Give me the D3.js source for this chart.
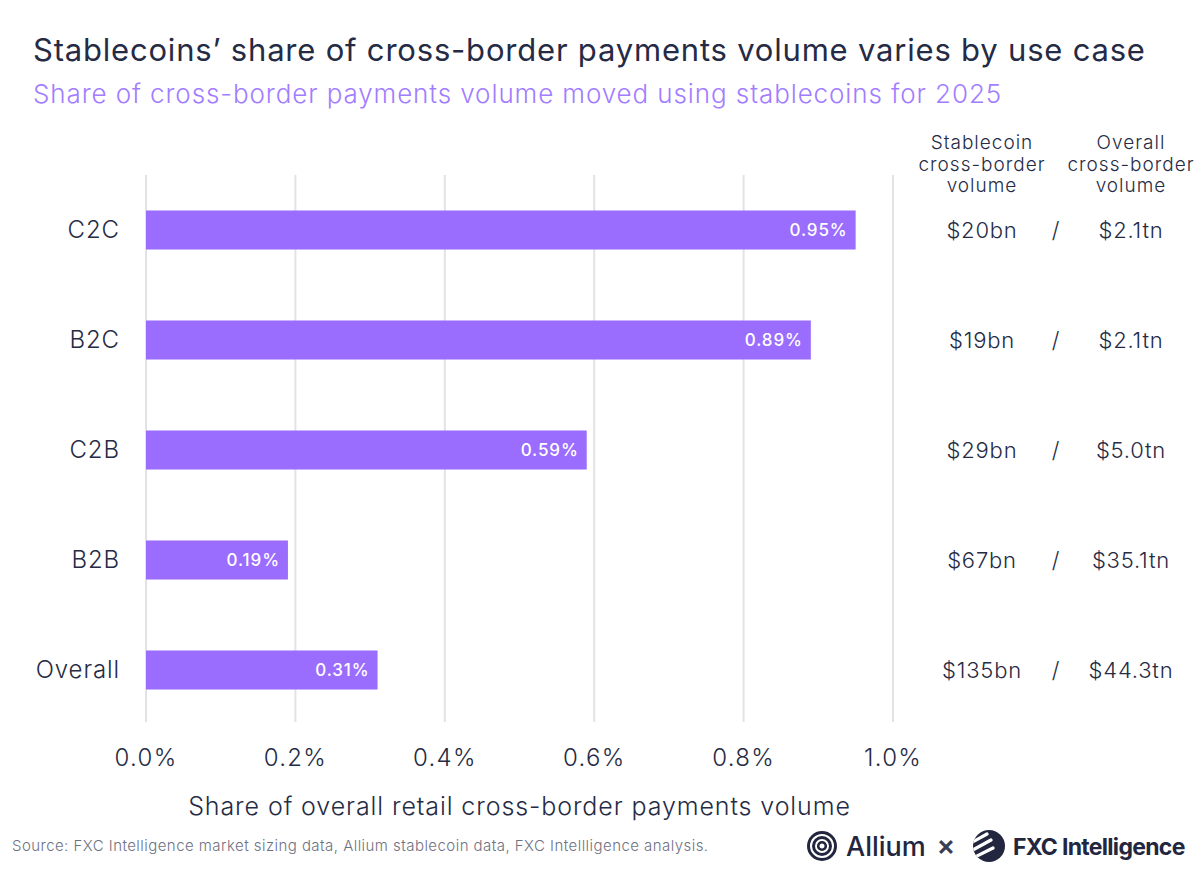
<!DOCTYPE html>
<html>
<head>
<meta charset="utf-8">
<script src="https://cdn.jsdelivr.net/npm/d3@7"></script>
<style>
  body { margin: 0; background: #fff; }
  svg { font-family: Inter, "Noto Sans", sans-serif; }
</style>
</head>
<body>
<div id="chart"></div>
<script>
// data
const categories = ["C2C", "B2C", "C2B", "B2B", "Overall"];
const shareValues = [0.95, 0.89, 0.59, 0.19, 0.31];
const stablecoinVolume = ["$20bn", "$19bn", "$29bn", "$67bn", "$135bn"];
const overallVolume = ["$2.1tn", "$2.1tn", "$5.0tn", "$35.1tn", "$44.3tn"];
const xTicks = [0, 0.2, 0.4, 0.6, 0.8, 1.0];

const W = 1200, H = 875,
  textColor = "#262b45",
  barColor = "#9b6dff",
  gridColor = "#e3e3e6";

const svg = d3.select("#chart").append("svg")
  .attr("width", W).attr("height", H);

// titles
svg.append("text")
  .attr("x", 33).attr("y", 61)
  .style("font-size", "31px").style("fill", textColor)
  .style("letter-spacing", "0.8px")
  .text("Stablecoins\u2019 share of cross-border payments volume varies by use case");
svg.append("text")
  .attr("x", 33).attr("y", 103)
  .style("font-size", "26px").style("fill", "#a27dff")
  .style("font-weight", 300).style("letter-spacing", "0.9px")
  .text("Share of cross-border payments volume moved using stablecoins for 2025");

const x = d3.scaleLinear().domain([0, 1]).range([146, 893]);
const y = d3.scaleBand().domain(categories).range([175, 725])
  .paddingInner(0.645).paddingOuter(0.3225);

// grid
svg.append("g").selectAll("line").data(xTicks).join("line")
  .attr("x1", d => x(d)).attr("x2", d => x(d))
  .attr("y1", 175).attr("y2", 722)
  .attr("stroke", gridColor).attr("stroke-width", 2);

// x tick labels
svg.append("g").selectAll("text").data(xTicks).join("text")
  .attr("x", d => x(d)).attr("y", 766)
  .attr("text-anchor", "middle")
  .style("font-size", "24px").style("font-weight", 300)
  .style("letter-spacing", "1.3px").style("fill", textColor)
  .text(d => d3.format(".1f")(d) + "%");

svg.append("text")
  .attr("x", (x(0) + x(1)) / 2).attr("y", 815)
  .attr("text-anchor", "middle")
  .style("font-size", "25px").style("font-weight", 300)
  .style("letter-spacing", "0.9px").style("fill", textColor)
  .text("Share of overall retail cross-border payments volume");

const rows = categories.map((c, i) => ({
  cat: c, val: shareValues[i], sc: stablecoinVolume[i], ov: overallVolume[i]
}));

const g = svg.append("g").selectAll("g").data(rows).join("g");

g.append("rect")
  .attr("x", x(0))
  .attr("y", d => y(d.cat))
  .attr("width", d => x(d.val) - x(0))
  .attr("height", y.bandwidth())
  .attr("fill", barColor);

g.append("text")
  .attr("x", d => x(d.val) - 8)
  .attr("y", d => y(d.cat) + y.bandwidth() / 2)
  .attr("dy", "0.35em")
  .attr("text-anchor", "end")
  .style("font-size", "17px").style("font-weight", 500)
  .style("letter-spacing", "0.9px").style("fill", "#fff")
  .text(d => d.val.toFixed(2) + "%");

g.append("text")
  .attr("x", 120)
  .attr("y", d => y(d.cat) + y.bandwidth() / 2)
  .attr("dy", "0.35em")
  .attr("text-anchor", "end")
  .style("font-size", "24px").style("font-weight", 300)
  .style("letter-spacing", "0.9px").style("fill", textColor)
  .text(d => d.cat);

// right-hand columns
const col1 = 982, col2 = 1131, slashX = 1056;
[["Stablecoin", "cross-border", "volume", col1], ["Overall", "cross-border", "volume", col2]]
  .forEach(h => {
    h.slice(0, 3).forEach((line, li) => {
      svg.append("text").attr("text-anchor", "middle")
        .attr("x", h[3]).attr("y", 149 + li * 21.5)
        .style("font-size", "19px").style("font-weight", 300)
        .style("letter-spacing", "1px").style("fill", textColor)
        .text(line);
    });
  });

const valStyle = sel => sel
  .attr("y", d => y(d.cat) + y.bandwidth() / 2)
  .attr("dy", "0.35em").attr("text-anchor", "middle")
  .style("font-size", "22px").style("font-weight", 300)
  .style("letter-spacing", "0.8px").style("fill", textColor);

g.append("text").attr("x", col1).call(valStyle).text(d => d.sc);
g.append("text").attr("x", slashX).call(valStyle).text("/");
g.append("text").attr("x", col2).call(valStyle).text(d => d.ov);

// footer
svg.append("text")
  .attr("x", 12).attr("y", 851)
  .style("font-size", "15px").style("font-weight", 300)
  .style("letter-spacing", "0.45px").style("fill", "#6e7182")
  .text("Source: FXC Intelligence market sizing data, Allium stablecoin data, FXC Intellligence analysis.");

// logos
const logoColor = "#22263f";
const al = svg.append("g").attr("transform", "translate(822,846)");
al.append("circle").attr("r", 13.5).attr("fill", "none").attr("stroke", logoColor).attr("stroke-width", 3);
al.append("circle").attr("r", 8.5).attr("fill", "none").attr("stroke", logoColor).attr("stroke-width", 3);
al.append("circle").attr("r", 3.8).attr("fill", "none").attr("stroke", logoColor).attr("stroke-width", 2.6);
svg.append("text")
  .attr("x", 846).attr("y", 856)
  .style("font-size", "27px").style("font-weight", 500).style("fill", logoColor)
  .text("Allium");
svg.append("text")
  .attr("x", 946).attr("y", 855).attr("text-anchor", "middle")
  .style("font-size", "28px").style("font-weight", 600).style("fill", "#3a3e55")
  .text("\u00d7");

const fx = svg.append("g").attr("transform", "translate(989,846)");
fx.append("clipPath").attr("id", "fxclip").append("circle").attr("r", 16);
fx.append("circle").attr("r", 16).attr("fill", logoColor);
const fxs = fx.append("g").attr("clip-path", "url(#fxclip)");
[[-20, -2, -2, -12], [-20, 6, 2, -6], [-20, 14, 4, 2]].forEach(s => {
  fxs.append("line")
    .attr("x1", s[0]).attr("y1", s[1]).attr("x2", s[2]).attr("y2", s[3])
    .attr("stroke", "#fff").attr("stroke-width", 3.2).attr("stroke-linecap", "round");
});
svg.append("text")
  .attr("x", 1013).attr("y", 855)
  .style("font-size", "23px").style("font-weight", 700).style("fill", logoColor)
  .style("letter-spacing", "-0.7px")
  .text("FXC Intelligence");
</script>
</body>
</html>
